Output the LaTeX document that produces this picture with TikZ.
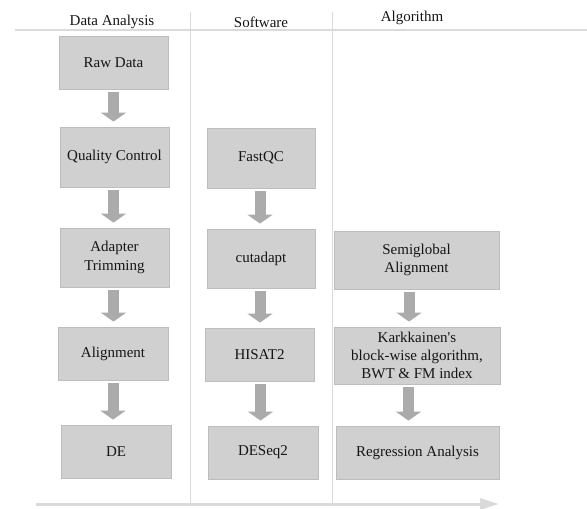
\documentclass[tikz,border=0pt]{standalone}
\usepackage{fontspec}
\setmainfont{Liberation Serif}
\newfontfamily\plainserif{Liberation Serif}
\usetikzlibrary{arrows.meta}
\definecolor{boxfill}{HTML}{D0D0D0}
\definecolor{boxline}{HTML}{BDBDBD}
\definecolor{arrowgray}{HTML}{ABABAB}
\definecolor{rulegray}{HTML}{DADADA}
\definecolor{txt}{HTML}{151515}
\tikzset{
  stepbox/.style={draw=boxline, fill=boxfill, line width=0.8pt, rectangle, align=center, inner sep=0pt, text=txt, font=\plainserif\fontsize{15}{18.5}\selectfont},
  header/.style={text=txt, font=\plainserif\fontsize{15}{18}\selectfont, inner sep=0pt},
  blockarrow/.style={draw=arrowgray, line width=11pt, -{Triangle[width=25pt,length=9pt]}, shorten <=3pt, shorten >=5pt},
  rule/.style={draw=rulegray, line width=1pt},
}
\begin{document}
\begin{tikzpicture}[x=1pt,y=-1pt]
\useasboundingbox (0,0) rectangle (587,509);
% rules
\coordinate (tl) at (15,30);
\coordinate (tr) at (587,30);
\coordinate (v1t) at (190,12);
\coordinate (v1b) at (190,503);
\coordinate (v2t) at (332,12);
\coordinate (v2b) at (332,503);
\draw[rule, line width=1.4pt] (tl) -- (tr);
\draw[rule] (v1t) -- (v1b);
\draw[rule] (v2t) -- (v2b);
% headers
\node[header] (h1) at (112,22) {Data Analysis};
\node[header] (h2) at (261,22) {Software};
\node[header] (h3) at (412,18) {Algorithm};
% column 1
\node[stepbox, minimum width=109pt, minimum height=53pt] (raw) at (113.5,62.5) {Raw Data};
\node[stepbox, minimum width=109pt, minimum height=60pt] (qc) at (114.5,157) {Quality Control};
\node[stepbox, minimum width=109pt, minimum height=59pt] (adapt) at (114.5,257.5) {Adapter\\Trimming};
\node[stepbox, minimum width=110pt, minimum height=53pt] (align) at (113,353.5) {Alignment};
\node[stepbox, minimum width=110pt, minimum height=53pt] (de) at (116,451.5) {DE};
% column 2
\node[stepbox, minimum width=108pt, minimum height=60pt] (fastqc) at (261,158) {FastQC};
\node[stepbox, minimum width=108pt, minimum height=59pt] (cutadapt) at (261,258.5) {cutadapt};
\node[stepbox, minimum width=109pt, minimum height=53pt] (hisat) at (259.5,354.5) {HISAT2};
\node[stepbox, minimum width=110pt, minimum height=53pt] (deseq) at (263,452.5) {DESeq2};
% column 3
\node[stepbox, minimum width=165pt, minimum height=58pt] (semi) at (416.5,260) {Semiglobal\\Alignment};
\node[stepbox, minimum width=166pt, minimum height=57pt, font=\plainserif\fontsize{15}{18}\selectfont] (kark) at (417,355.5) {Karkkainen's\\block-wise algorithm,\\BWT \& FM index};
\node[stepbox, minimum width=163pt, minimum height=53pt] (reg) at (417.5,452.5) {Regression Analysis};
% block arrows
\draw[blockarrow] (raw.south) -- (raw.south |- qc.north);
\draw[blockarrow] ([xshift=-1pt]qc.south) -- ([xshift=-1pt]qc.south |- adapt.north);
\draw[blockarrow] ([xshift=-1pt]adapt.south) -- ([xshift=-1pt]adapt.south |- align.north);
\draw[blockarrow] (align.south) -- (align.south |- de.north);
\draw[blockarrow] ([xshift=-1pt]fastqc.south) -- ([xshift=-1pt]fastqc.south |- cutadapt.north);
\draw[blockarrow] ([xshift=-1pt]cutadapt.south) -- ([xshift=-1pt]cutadapt.south |- hisat.north);
\draw[blockarrow] ([xshift=1pt]hisat.south) -- ([xshift=1pt]hisat.south |- deseq.north);
\draw[blockarrow] ([xshift=-7.5pt]semi.south) -- ([xshift=-7.5pt]semi.south |- kark.north);
\draw[blockarrow] ([xshift=-8.5pt]kark.south) -- ([xshift=-8.5pt]kark.south |- reg.north);
% time axis
\coordinate (axs) at (36,504);
\coordinate (axe) at (499,504);
\draw[draw=rulegray, line width=3pt, -{Triangle[width=11pt,length=19pt]}] (axs) -- (axe);
\end{tikzpicture}
\end{document}
